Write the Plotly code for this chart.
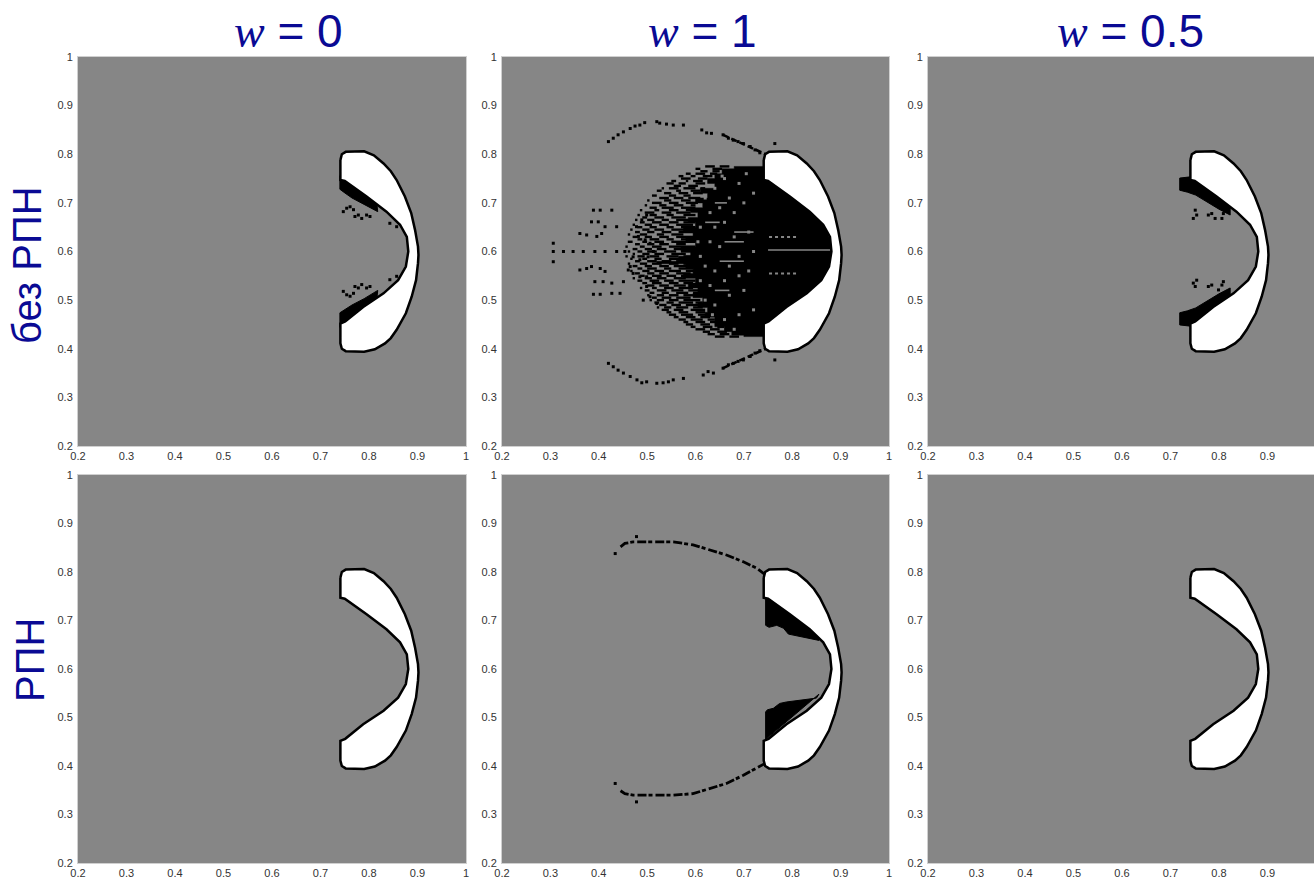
import plotly.graph_objects as go

# ---------------------------------------------------------------- data ----
col_w_values = ["0", "1", "0.5"]
row_labels = ["без РПН", "РПН"]
tick_vals = [0.2, 0.3, 0.4, 0.5, 0.6, 0.7, 0.8, 0.9, 1.0]
tick_text = ["0.2", "0.3", "0.4", "0.5", "0.6", "0.7", "0.8", "0.9", "1"]

# boundary of the white basin (same in every panel)
bean_x = [0.741, 0.744, 0.752, 0.790, 0.810, 0.830, 0.845, 0.857, 0.874, 0.887,
          0.895, 0.901, 0.902, 0.901, 0.897, 0.888, 0.876, 0.857, 0.845, 0.833,
          0.812, 0.790, 0.752, 0.744, 0.741, 0.741, 0.751, 0.788, 0.830, 0.860,
          0.876, 0.881, 0.878, 0.864, 0.836, 0.795, 0.750, 0.741]
bean_y = [0.788, 0.800, 0.805, 0.806, 0.798, 0.781, 0.765, 0.747, 0.713, 0.679,
          0.644, 0.610, 0.593, 0.576, 0.541, 0.507, 0.473, 0.439, 0.422, 0.411,
          0.399, 0.394, 0.395, 0.400, 0.411, 0.452, 0.456, 0.486, 0.514, 0.541,
          0.569, 0.600, 0.630, 0.655, 0.682, 0.713, 0.745, 0.747]

# w = 0, без РПН
tl_up_x = [0.740, 0.816, 0.818, 0.790, 0.765, 0.748, 0.740]
tl_up_y = [0.756, 0.700, 0.682, 0.697, 0.710, 0.722, 0.728]
tl_lo_x = [0.740, 0.816, 0.818, 0.790, 0.765, 0.748, 0.740]
tl_lo_y = [0.444, 0.500, 0.520, 0.503, 0.490, 0.478, 0.474]
tl_dot_x = [0.747, 0.754, 0.761, 0.768, 0.771, 0.778, 0.785, 0.795, 0.802, 0.843, 0.857,
            0.747, 0.754, 0.761, 0.768, 0.771, 0.778, 0.785, 0.795, 0.802, 0.843, 0.857]
tl_dot_y = [0.682, 0.689, 0.692, 0.686, 0.672, 0.675, 0.668, 0.675, 0.672, 0.658, 0.651,
            0.518, 0.511, 0.508, 0.514, 0.528, 0.525, 0.532, 0.525, 0.528, 0.542, 0.549]

# w = 1, без РПН : dense core of the chaotic set (ragged left edge, row by row)
tm_core_x = [0.747, 0.680, 0.680, 0.655, 0.655, 0.640, 0.640, 0.625, 0.625, 0.640,
             0.640, 0.610, 0.610, 0.625, 0.625, 0.600, 0.600, 0.615, 0.615, 0.590,
             0.590, 0.605, 0.605, 0.585, 0.585, 0.600, 0.600, 0.575, 0.575, 0.595,
             0.595, 0.580, 0.580, 0.600, 0.600, 0.570, 0.570, 0.590, 0.590, 0.565,
             0.565, 0.520, 0.520, 0.580, 0.580, 0.595, 0.595, 0.575, 0.575, 0.600,
             0.600, 0.585, 0.585, 0.605, 0.605, 0.595, 0.595, 0.615, 0.615, 0.605,
             0.605, 0.625, 0.625, 0.620, 0.620, 0.640, 0.640, 0.660, 0.660, 0.675,
             0.675, 0.700, 0.700, 0.750, 0.860, 0.885, 0.860]
tm_core_y = [0.775, 0.775, 0.770, 0.770, 0.760, 0.760, 0.750, 0.750, 0.740, 0.740,
             0.730, 0.730, 0.720, 0.720, 0.710, 0.710, 0.700, 0.700, 0.690, 0.690,
             0.680, 0.680, 0.670, 0.670, 0.660, 0.660, 0.650, 0.650, 0.640, 0.640,
             0.630, 0.630, 0.620, 0.620, 0.610, 0.610, 0.600, 0.600, 0.590, 0.590,
             0.580, 0.580, 0.575, 0.575, 0.565, 0.565, 0.555, 0.555, 0.545, 0.545,
             0.535, 0.535, 0.525, 0.525, 0.515, 0.515, 0.505, 0.505, 0.495, 0.495,
             0.485, 0.485, 0.475, 0.475, 0.465, 0.465, 0.445, 0.445, 0.435, 0.435,
             0.428, 0.428, 0.425, 0.425, 0.520, 0.600, 0.680]
# fringe of the set: horizontal runs of black cells, row by row
tm_run_y = [0.775, 0.770, 0.765, 0.760, 0.755, 0.750, 0.745, 0.740, 0.735, 0.730,
            0.725, 0.720, 0.715, 0.710, 0.705, 0.700, 0.695, 0.690, 0.685, 0.680,
            0.675, 0.670, 0.665, 0.660, 0.655, 0.650, 0.645, 0.640, 0.635, 0.630,
            0.625, 0.620, 0.615, 0.610, 0.605, 0.600, 0.595, 0.590, 0.585, 0.580,
            0.575, 0.570, 0.565, 0.560, 0.555, 0.550, 0.545, 0.540, 0.535, 0.530,
            0.525, 0.520, 0.515, 0.510, 0.505, 0.500, 0.495, 0.490, 0.485, 0.480,
            0.475, 0.470, 0.465, 0.460, 0.455, 0.450, 0.445, 0.440, 0.435, 0.430,
            0.425]
tm_run_spans = [
    [(0.620, 0.640), (0.650, 0.670)],
    [(0.600, 0.610), (0.635, 0.655)],
    [(0.610, 0.625), (0.635, 0.650)],
    [(0.580, 0.590), (0.600, 0.620), (0.630, 0.645)],
    [(0.565, 0.575), (0.590, 0.600), (0.615, 0.635)],
    [(0.570, 0.590), (0.605, 0.625)],
    [(0.550, 0.560), (0.580, 0.585), (0.595, 0.615)],
    [(0.540, 0.555), (0.565, 0.580), (0.600, 0.620)],
    [(0.555, 0.570), (0.585, 0.605)],
    [(0.530, 0.535), (0.545, 0.565), (0.575, 0.600), (0.610, 0.620)],
    [(0.520, 0.530), (0.560, 0.570), (0.590, 0.610)],
    [(0.535, 0.550), (0.565, 0.585), (0.595, 0.615)],
    [(0.510, 0.520), (0.545, 0.560), (0.575, 0.590)],
    [(0.525, 0.545), (0.555, 0.575), (0.585, 0.610)],
    [(0.500, 0.505), (0.535, 0.550), (0.570, 0.590)],
    [(0.510, 0.530), (0.545, 0.565), (0.580, 0.605)],
    [(0.495, 0.500), (0.525, 0.540), (0.555, 0.575), (0.590, 0.600)],
    [(0.505, 0.520), (0.530, 0.555), (0.570, 0.600)],
    [(0.485, 0.490), (0.515, 0.525), (0.545, 0.565), (0.580, 0.600)],
    [(0.495, 0.515), (0.530, 0.550), (0.560, 0.590)],
    [(0.480, 0.485), (0.505, 0.520), (0.540, 0.555), (0.575, 0.600)],
    [(0.490, 0.500), (0.515, 0.535), (0.550, 0.580)],
    [(0.475, 0.480), (0.500, 0.515), (0.530, 0.545), (0.560, 0.600)],
    [(0.485, 0.495), (0.510, 0.530), (0.545, 0.565), (0.575, 0.600)],
    [(0.470, 0.475), (0.495, 0.510), (0.525, 0.545), (0.560, 0.595)],
    [(0.480, 0.490), (0.505, 0.520), (0.540, 0.555), (0.570, 0.600)],
    [(0.465, 0.470), (0.490, 0.505), (0.515, 0.535), (0.550, 0.580)],
    [(0.475, 0.485), (0.500, 0.515), (0.530, 0.550), (0.565, 0.600)],
    [(0.460, 0.465), (0.485, 0.500), (0.520, 0.535), (0.550, 0.575)],
    [(0.470, 0.480), (0.495, 0.510), (0.525, 0.545), (0.560, 0.600)],
    [(0.480, 0.490), (0.505, 0.525), (0.540, 0.555), (0.570, 0.590)],
    [(0.460, 0.470), (0.490, 0.500), (0.515, 0.535), (0.550, 0.600)],
    [(0.475, 0.485), (0.500, 0.515), (0.525, 0.545), (0.560, 0.580)],
    [(0.455, 0.460), (0.485, 0.495), (0.510, 0.530), (0.545, 0.600)],
    [(0.470, 0.480), (0.495, 0.510), (0.520, 0.540), (0.555, 0.575)],
    [(0.460, 0.465), (0.480, 0.490), (0.500, 0.520), (0.535, 0.560), (0.570, 0.600)],
    [(0.470, 0.475), (0.490, 0.505), (0.515, 0.535), (0.550, 0.580)],
    [(0.455, 0.460), (0.480, 0.495), (0.505, 0.525), (0.540, 0.565), (0.575, 0.600)],
    [(0.465, 0.470), (0.490, 0.500), (0.515, 0.530), (0.545, 0.570)],
    [(0.475, 0.485), (0.500, 0.520), (0.530, 0.550), (0.560, 0.590)],
    [(0.460, 0.465), (0.485, 0.500), (0.510, 0.530), (0.545, 0.565), (0.575, 0.595)],
    [(0.470, 0.480), (0.495, 0.510), (0.525, 0.545), (0.555, 0.590)],
    [(0.480, 0.490), (0.500, 0.520), (0.535, 0.550), (0.565, 0.595)],
    [(0.465, 0.470), (0.490, 0.505), (0.515, 0.535), (0.545, 0.570), (0.580, 0.600)],
    [(0.475, 0.485), (0.500, 0.515), (0.525, 0.545), (0.560, 0.590)],
    [(0.485, 0.495), (0.510, 0.530), (0.540, 0.560), (0.570, 0.600)],
    [(0.470, 0.475), (0.495, 0.510), (0.520, 0.540), (0.555, 0.580)],
    [(0.480, 0.490), (0.505, 0.525), (0.535, 0.555), (0.565, 0.600)],
    [(0.490, 0.500), (0.510, 0.530), (0.545, 0.565), (0.575, 0.595)],
    [(0.500, 0.515), (0.525, 0.545), (0.555, 0.580), (0.590, 0.600)],
    [(0.485, 0.490), (0.510, 0.520), (0.535, 0.555), (0.565, 0.595)],
    [(0.495, 0.505), (0.520, 0.540), (0.550, 0.575), (0.585, 0.610)],
    [(0.505, 0.515), (0.530, 0.545), (0.560, 0.585), (0.595, 0.610)],
    [(0.500, 0.505), (0.520, 0.535), (0.545, 0.565), (0.575, 0.610)],
    [(0.510, 0.520), (0.530, 0.550), (0.560, 0.590)],
    [(0.505, 0.510), (0.520, 0.535), (0.545, 0.565), (0.575, 0.610)],
    [(0.515, 0.525), (0.540, 0.555), (0.565, 0.595), (0.600, 0.615)],
    [(0.525, 0.540), (0.550, 0.570), (0.580, 0.610)],
    [(0.520, 0.525), (0.535, 0.550), (0.560, 0.585), (0.595, 0.615)],
    [(0.530, 0.545), (0.555, 0.575), (0.590, 0.620)],
    [(0.540, 0.550), (0.565, 0.585), (0.600, 0.620)],
    [(0.545, 0.560), (0.570, 0.595), (0.605, 0.630)],
    [(0.555, 0.565), (0.580, 0.600), (0.610, 0.630)],
    [(0.565, 0.580), (0.590, 0.615), (0.625, 0.640)],
    [(0.575, 0.585), (0.600, 0.620), (0.630, 0.650)],
    [(0.580, 0.595), (0.610, 0.630), (0.640, 0.655)],
    [(0.590, 0.600), (0.615, 0.635), (0.645, 0.660)],
    [(0.600, 0.620), (0.630, 0.650), (0.660, 0.670)],
    [(0.615, 0.630), (0.645, 0.665)],
    [(0.625, 0.640), (0.650, 0.670)],
    [(0.640, 0.660), (0.670, 0.690)],
]
# isolated black cells left of the set
tm_dot_x = [0.306, 0.306, 0.306, 0.327, 0.347, 0.368, 0.392, 0.413, 0.437, 0.454,
            0.389, 0.403, 0.427, 0.385, 0.399, 0.413, 0.437, 0.361, 0.375, 0.396,
            0.406, 0.361, 0.375, 0.385, 0.403, 0.413, 0.392, 0.409, 0.427, 0.389,
            0.403, 0.427, 0.444, 0.461, 0.465, 0.451, 0.478, 0.489, 0.499, 0.482,
            0.496, 0.506, 0.471, 0.485, 0.502, 0.513, 0.471, 0.485, 0.499, 0.513,
            0.492, 0.506, 0.520, 0.499]
tm_dot_y = [0.617, 0.600, 0.579, 0.600, 0.600, 0.600, 0.600, 0.600, 0.600, 0.600,
            0.685, 0.685, 0.685, 0.661, 0.661, 0.651, 0.651, 0.637, 0.634, 0.631,
            0.637, 0.562, 0.565, 0.569, 0.565, 0.559, 0.538, 0.538, 0.535, 0.512,
            0.512, 0.514, 0.514, 0.562, 0.569, 0.538, 0.651, 0.665, 0.675, 0.631,
            0.624, 0.617, 0.589, 0.583, 0.589, 0.600, 0.555, 0.548, 0.548, 0.538,
            0.500, 0.507, 0.493, 0.528]
# gray cells inside the dense core
tm_hole_x = [0.620, 0.640, 0.660, 0.630, 0.650, 0.670, 0.690, 0.610, 0.640, 0.660,
             0.680, 0.700, 0.720, 0.605, 0.630, 0.650, 0.680, 0.710, 0.610, 0.620,
             0.640, 0.670, 0.690, 0.720, 0.610, 0.630, 0.660, 0.690, 0.710, 0.620,
             0.640, 0.670, 0.700, 0.635, 0.660, 0.690, 0.720, 0.680, 0.655, 0.705]
tm_hole_y = [0.710, 0.730, 0.750, 0.680, 0.690, 0.710, 0.740, 0.650, 0.650, 0.660,
             0.680, 0.700, 0.720, 0.620, 0.620, 0.610, 0.630, 0.640, 0.590, 0.570,
             0.560, 0.570, 0.590, 0.600, 0.540, 0.530, 0.540, 0.550, 0.560, 0.500,
             0.490, 0.510, 0.520, 0.470, 0.460, 0.470, 0.480, 0.440, 0.755, 0.760]
tm_gray_run_y = [0.603, 0.640, 0.620, 0.580, 0.660, 0.520, 0.700]
tm_gray_run_x0 = [0.750, 0.680, 0.660, 0.650, 0.620, 0.640, 0.640]
tm_gray_run_x1 = [0.880, 0.720, 0.700, 0.700, 0.650, 0.670, 0.665]
tm_gray_dot_y = [0.630, 0.555]
tm_gray_dot_x0 = [0.752, 0.752]
tm_gray_dot_x1 = [0.810, 0.810]
tm_arc_x = [0.420, 0.430, 0.440, 0.451, 0.465, 0.475, 0.485, 0.495, 0.520, 0.526,
            0.540, 0.554, 0.575, 0.613, 0.623, 0.633, 0.657, 0.668, 0.678, 0.688,
            0.699, 0.713, 0.723, 0.733, 0.764,
            0.420, 0.430, 0.440, 0.451, 0.465, 0.479, 0.489, 0.499, 0.520, 0.533,
            0.544, 0.554, 0.575, 0.616, 0.626, 0.637, 0.657, 0.668, 0.678, 0.688,
            0.699, 0.713, 0.723, 0.733, 0.764]
tm_arc_y = [0.826, 0.833, 0.840, 0.846, 0.853, 0.858, 0.860, 0.865, 0.867, 0.864,
            0.862, 0.860, 0.860, 0.850, 0.844, 0.843, 0.840, 0.833, 0.829, 0.826,
            0.822, 0.816, 0.809, 0.803, 0.822,
            0.370, 0.363, 0.356, 0.350, 0.343, 0.336, 0.330, 0.332, 0.329, 0.330,
            0.332, 0.336, 0.339, 0.346, 0.353, 0.350, 0.360, 0.367, 0.370, 0.374,
            0.377, 0.384, 0.391, 0.396, 0.377]
tm_arc_line_x = [0.657, 0.688, 0.713, 0.745]
tm_arc_line_y_top = [0.840, 0.826, 0.816, 0.800]
tm_arc_line_y_bot = [0.360, 0.374, 0.384, 0.400]

# w = 0.5, без РПН
tr_up_x = [0.719, 0.745, 0.823, 0.823, 0.800, 0.775, 0.752, 0.735, 0.719]
tr_up_y = [0.751, 0.754, 0.698, 0.675, 0.687, 0.702, 0.716, 0.722, 0.726]
tr_lo_x = [0.719, 0.745, 0.823, 0.823, 0.800, 0.775, 0.752, 0.735, 0.719]
tr_lo_y = [0.449, 0.446, 0.502, 0.525, 0.513, 0.498, 0.484, 0.478, 0.474]
tr_dot_x = [0.747, 0.754, 0.751, 0.778, 0.785, 0.792, 0.806, 0.809,
            0.747, 0.754, 0.751, 0.778, 0.785, 0.799, 0.806, 0.809]
tr_dot_y = [0.668, 0.675, 0.685, 0.675, 0.678, 0.668, 0.668, 0.678,
            0.535, 0.541, 0.528, 0.528, 0.531, 0.521, 0.531, 0.538]

# w = 1, РПН
bm_up_x = [0.745, 0.862, 0.855, 0.830, 0.810, 0.792, 0.782, 0.768, 0.752, 0.745]
bm_up_y = [0.750, 0.668, 0.659, 0.664, 0.668, 0.672, 0.684, 0.690, 0.686, 0.690]
bm_lo_x = [0.745, 0.855, 0.850, 0.816, 0.788, 0.774, 0.761, 0.749, 0.745]
bm_lo_y = [0.455, 0.548, 0.540, 0.536, 0.532, 0.529, 0.519, 0.516, 0.512]
bm_arc_x = [0.445, 0.454, 0.471, 0.506, 0.554, 0.595, 0.630, 0.664, 0.699, 0.726, 0.745]
bm_arc_top_y = [0.852, 0.859, 0.862, 0.862, 0.862, 0.856, 0.845, 0.835, 0.821, 0.808, 0.794]
bm_arc_bot_y = [0.349, 0.343, 0.340, 0.340, 0.340, 0.343, 0.354, 0.364, 0.381, 0.395, 0.406]
bm_dot_x = [0.434, 0.478, 0.434, 0.478]
bm_dot_y = [0.838, 0.873, 0.364, 0.326]

# ------------------------------------------------------------- layout ----
W, H = 1314, 878
GRAY = "#868686"
BLUE = "#0a0a94"
col_px = [(78, 466), (502, 889), (928, 1314)]
row_px = [(57, 446), (475, 863)]
unit_px = (466 - 78) / 0.8

fig = go.Figure()


def ref(i):
    return ("x" if i == 0 else f"x{i+1}"), ("y" if i == 0 else f"y{i+1}")


def poly(i, xs, ys, fill, lcol, lw):
    xa, ya = ref(i)
    fig.add_trace(go.Scatter(x=list(xs) + [xs[0]], y=list(ys) + [ys[0]], mode="lines",
                             fill="toself", fillcolor=fill,
                             line=dict(color=lcol, width=lw),
                             xaxis=xa, yaxis=ya, hoverinfo="skip", showlegend=False))


def dots(i, xs, ys, color, size):
    xa, ya = ref(i)
    fig.add_trace(go.Scatter(x=xs, y=ys, mode="markers",
                             marker=dict(symbol="square", size=size, color=color,
                                         line=dict(width=0)),
                             xaxis=xa, yaxis=ya, hoverinfo="skip", showlegend=False))


def runs(i, ys, x0s, x1s, color, lw, dash="solid"):
    xa, ya = ref(i)
    xx, yy = [], []
    for y, a, b in zip(ys, x0s, x1s):
        xx += [a, b, None]
        yy += [y, y, None]
    fig.add_trace(go.Scatter(x=xx, y=yy, mode="lines",
                             line=dict(color=color, width=lw, dash=dash),
                             xaxis=xa, yaxis=ya, hoverinfo="skip", showlegend=False))


def curve(i, xs, ys, color, lw, dash="solid"):
    xa, ya = ref(i)
    fig.add_trace(go.Scatter(x=xs, y=ys, mode="lines",
                             line=dict(color=color, width=lw, dash=dash),
                             xaxis=xa, yaxis=ya, hoverinfo="skip", showlegend=False))


# panel 0: w = 0, без РПН
poly(0, tl_up_x, tl_up_y, "black", "black", 1)
poly(0, tl_lo_x, tl_lo_y, "black", "black", 1)
dots(0, tl_dot_x, tl_dot_y, "black", 3)

# panel 1: w = 1, без РПН
poly(1, tm_core_x, tm_core_y, "black", "black", 0.5)
span_y, span_x0, span_x1 = [], [], []
for y, spans in zip(tm_run_y, tm_run_spans):
    for a, b in spans:
        span_y.append(y)
        span_x0.append(a)
        span_x1.append(b)
runs(1, span_y, span_x0, span_x1, "black", 2.4)
dots(1, tm_dot_x, tm_dot_y, "black", 3)
dots(1, tm_hole_x, tm_hole_y, GRAY, 3)
runs(1, tm_gray_run_y, tm_gray_run_x0, tm_gray_run_x1, GRAY, 1.6)
runs(1, tm_gray_dot_y, tm_gray_dot_x0, tm_gray_dot_x1, GRAY, 2, "3px,3px")
dots(1, tm_arc_x, tm_arc_y, "black", 3)
curve(1, tm_arc_line_x, tm_arc_line_y_top, "black", 2.5, "6px,3px")
curve(1, tm_arc_line_x, tm_arc_line_y_bot, "black", 2.5, "6px,3px")

# panel 2: w = 0.5, без РПН
poly(2, tr_up_x, tr_up_y, "black", "black", 1)
poly(2, tr_lo_x, tr_lo_y, "black", "black", 1)
dots(2, tr_dot_x, tr_dot_y, "black", 3)

# panel 4: w = 1, РПН
poly(4, bm_up_x, bm_up_y, "black", "black", 1)
poly(4, bm_lo_x, bm_lo_y, "black", "black", 1)
curve(4, bm_arc_x, bm_arc_top_y, "black", 2.8, "9px,2px,4px,3px")
curve(4, bm_arc_x, bm_arc_bot_y, "black", 2.8, "9px,2px,4px,3px")
dots(4, bm_dot_x, bm_dot_y, "black", 3)

# white basin in every panel
for i in range(6):
    poly(i, bean_x, bean_y, "white", "black", 2.5)

axis_font = dict(family="Liberation Sans, Arial, sans-serif", size=11, color="#333333")
layout_axes = {}
for i in range(6):
    r, c = divmod(i, 3)
    x0, x1 = col_px[c]
    y0, y1 = row_px[r]
    xmax = min(0.2 + (x1 - x0) / unit_px, 1.0)
    if c < 2:
        xmax = 1.0
    common = dict(tickvals=tick_vals, ticktext=tick_text, showgrid=False, zeroline=False,
                  showline=True, mirror=True, linecolor="#d0d0d0", linewidth=1,
                  ticks="", tickfont=axis_font, fixedrange=True, automargin=False)
    xa, ya = ref(i)
    layout_axes["xaxis" if i == 0 else f"xaxis{i+1}"] = dict(
        domain=[x0 / W, x1 / W], range=[0.2, xmax], anchor=ya, **common)
    layout_axes["yaxis" if i == 0 else f"yaxis{i+1}"] = dict(
        domain=[1 - y1 / H, 1 - y0 / H], range=[0.2, 1.0], anchor=xa,
        ticklabelstandoff=2, **common)

annotations = []
title_cx = [288, 702, 1130]
for cx, wv in zip(title_cx, col_w_values):
    annotations.append(dict(
        x=cx / W, y=1 - 31 / H, xref="paper", yref="paper", xanchor="center",
        yanchor="middle", showarrow=False,
        text=f"<span style='font-family:Liberation Serif'><i>w</i></span> = {wv}",
        font=dict(family="Liberation Sans, Arial, sans-serif", size=46, color=BLUE)))
for (cx, cy), lab in zip([(27, 265), (30, 660)], row_labels):
    annotations.append(dict(
        x=cx / W, y=1 - cy / H, xref="paper", yref="paper", xanchor="center",
        yanchor="middle", showarrow=False, textangle=-90, text=lab,
        font=dict(family="Liberation Sans, Arial, sans-serif", size=40, color=BLUE)))

fig.update_layout(width=W, height=H,
                  margin=dict(l=0, r=0, t=0, b=0, pad=0, autoexpand=False),
                  paper_bgcolor="white", plot_bgcolor=GRAY, showlegend=False,
                  annotations=annotations, **layout_axes)

fig.write_html("out.html")
